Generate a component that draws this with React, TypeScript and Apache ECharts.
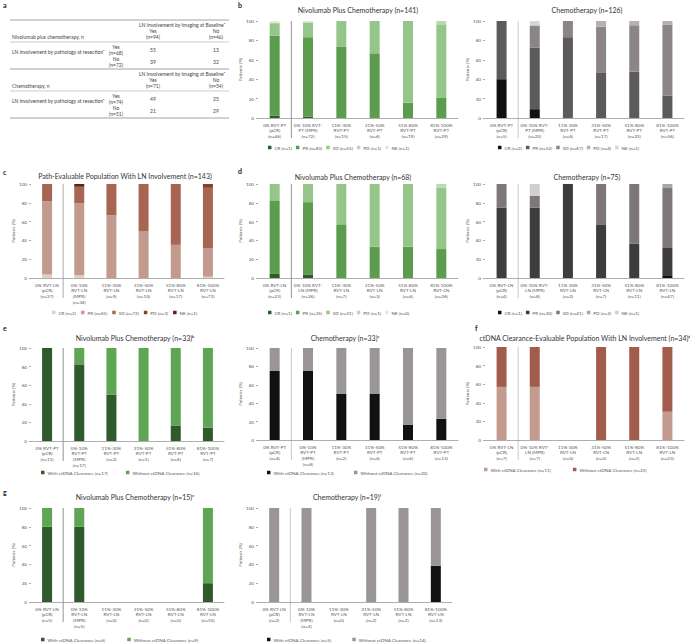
import React, { useEffect, useRef } from "react";
import * as echarts from "echarts";

const FONT = "Lato, 'Open Sans', sans-serif";

// ---------- categories ----------
const bNivoCats = ["0% RVT-PT\n(pCR)\n(n=46)", "0%-10% RVT-\nPT (MPR)\n(n=72)", "11%-30%\nRVT-PT\n(n=15)", "31%-50%\nRVT-PT\n(n=6)", "51%-80%\nRVT-PT\n(n=19)", "81%-100%\nRVT-PT\n(n=29)"];
const bChemoCats = ["0% RVT-PT\n(pCR)\n(n=5)", "0%-10% RVT-\nPT (MPR)\n(n=22)", "11%-30%\nRVT-PT\n(n=6)", "31%-50%\nRVT-PT\n(n=17)", "51%-80%\nRVT-PT\n(n=23)", "81%-100%\nRVT-PT\n(n=56)"];
const cCats = ["0% RVT-LN\n(pCR)\n(n=27)", "0%-10%\nRVT-LN\n(MPR)\n(n=34)", "11%-30%\nRVT-LN\n(n=9)", "31%-50%\nRVT-LN\n(n=10)", "51%-80%\nRVT-LN\n(n=17)", "81%-100%\nRVT-LN\n(n=73)"];
const dNivoCats = ["0% RVT-LN\n(pCR)\n(n=23)", "0%-10% RVT-\nLN (MPR)\n(n=26)", "11%-30%\nRVT-LN\n(n=7)", "31%-50%\nRVT-LN\n(n=3)", "51%-80%\nRVT-LN\n(n=6)", "81%-100%\nRVT-LN\n(n=26)"];
const dChemoCats = ["0% RVT-LN\n(pCR)\n(n=4)", "0%-10% RVT-\nLN (MPR)\n(n=8)", "11%-30%\nRVT-LN\n(n=2)", "31%-50%\nRVT-LN\n(n=7)", "51%-80%\nRVT-LN\n(n=11)", "81%-100%\nRVT-LN\n(n=47)"];
const eNivoCats = ["0% RVT-PT\n(pCR)\n(n=11)", "0%-10%\nRVT-PT\n(MPR)\n(n=17)", "11%-30%\nRVT-PT\n(n=2)", "31%-50%\nRVT-PT\n(n=1)", "51%-80%\nRVT-PT\n(n=6)", "81%-100%\nRVT-PT\n(n=7)"];
const eChemoCats = ["0% RVT-PT\n(pCR)\n(n=4)", "0%-10%\nRVT-PT\n(MPR)\n(n=8)", "11%-30%\nRVT-PT\n(n=2)", "31%-50%\nRVT-PT\n(n=4)", "51%-80%\nRVT-PT\n(n=6)", "81%-100%\nRVT-PT\n(n=13)"];
const fCats = ["0% RVT-LN\n(pCR)\n(n=7)", "0%-10% RVT-\nLN (MPR)\n(n=7)", "11%-30%\nRVT-LN\n(n=0)", "31%-50%\nRVT-LN\n(n=2)", "51%-80%\nRVT-LN\n(n=2)", "81%-100%\nRVT-LN\n(n=23)"];
const gNivoCats = ["0% RVT-LN\n(pCR)\n(n=5)", "0%-10%\nRVT-LN\n(MPR)\n(n=5)", "11%-30%\nRVT-LN\n(n=0)", "31%-50%\nRVT-LN\n(n=0)", "51%-80%\nRVT-LN\n(n=0)", "81%-100%\nRVT-LN\n(n=10)"];
const gChemoCats = ["0% RVT-LN\n(pCR)\n(n=2)", "0%-10%\nRVT-LN\n(MPR)\n(n=2)", "11%-30%\nRVT-LN\n(n=0)", "31%-50%\nRVT-LN\n(n=2)", "51%-80%\nRVT-LN\n(n=2)", "81%-100%\nRVT-LN\n(n=13)"];

const yTicks = [0, 20, 40, 60, 80, 100];

// ---------- values (% of patients) ----------
// b: Nivolumab + chemo, RVT-PT
const bNivoCR = [2.2, 1.4, 0, 0, 0, 0];
const bNivoPR = [82.6, 81.9, 73.3, 66.7, 15.8, 20.7];
const bNivoSD = [13.0, 15.3, 26.7, 33.3, 84.2, 75.9];
const bNivoPD = [0, 0, 0, 0, 0, 3.4];
const bNivoNE = [2.2, 1.4, 0, 0, 0, 0];
// b: Chemo, RVT-PT
const bChemoCR = [40, 9.1, 0, 0, 0, 0];
const bChemoPR = [60, 63.6, 83.3, 47.1, 47.8, 23.2];
const bChemoSD = [0, 22.7, 16.7, 47.1, 47.8, 73.2];
const bChemoPD = [0, 0, 0, 5.8, 4.4, 3.6];
const bChemoNE = [0, 4.6, 0, 0, 0, 0];
// c: path-evaluable with LN involvement
const cCR = [3.7, 2.9, 0, 0, 0, 1.4];
const cPR = [77.8, 76.5, 66.7, 50, 35.3, 30.1];
const cSD = [18.5, 17.7, 33.3, 50, 64.7, 64.4];
const cPD = [0, 0, 0, 0, 0, 4.1];
const cNE = [0, 2.9, 0, 0, 0, 0];
// d: Nivolumab + chemo, RVT-LN
const dNivoCR = [4.3, 3.8, 0, 0, 0, 0];
const dNivoPR = [78.3, 76.9, 57.1, 33.3, 33.3, 30.8];
const dNivoSD = [17.4, 19.3, 42.9, 66.7, 66.7, 65.4];
const dNivoPD = [0, 0, 0, 0, 0, 3.8];
const dNivoNE = [0, 0, 0, 0, 0, 0];
// d: Chemo, RVT-LN
const dChemoCR = [0, 0, 0, 0, 0, 2.1];
const dChemoPR = [75, 75, 100, 57.1, 36.4, 29.8];
const dChemoSD = [25, 12.5, 0, 42.9, 63.6, 63.8];
const dChemoPD = [0, 0, 0, 0, 0, 4.3];
const dChemoNE = [0, 12.5, 0, 0, 0, 0];
// e: ctDNA clearance, RVT-PT
const eNivoWith = [100, 82.4, 50, 0, 16.7, 14.3];
const eNivoWithout = [0, 17.6, 50, 100, 83.3, 85.7];
const eChemoWith = [75, 75, 50, 50, 16.7, 23.1];
const eChemoWithout = [25, 25, 50, 50, 83.3, 76.9];
// f: ctDNA clearance-evaluable with LN involvement
const fWith = [57.1, 57.1, 0, 0, 0, 30.4];
const fWithout = [42.9, 42.9, 0, 100, 100, 69.6];
// g: ctDNA clearance, RVT-LN
const gNivoWith = [80, 80, 0, 0, 0, 20];
const gNivoWithout = [20, 20, 0, 0, 0, 80];
const gChemoWith = [0, 0, 0, 0, 0, 38.5];
const gChemoWithout = [100, 100, 0, 100, 100, 61.5];

// ---------- legend labels ----------
const bNivoLeg = ["CR (n=1)", "PR (n=83)", "SD (n=55)", "PD (n=1)", "NE (n=1)"];
const bChemoLeg = ["CR (n=2)", "PR (n=52)", "SD (n=67)", "PD (n=4)", "NE (n=1)"];
const cLeg = ["CR (n=2)", "PR (n=65)", "SD (n=72)", "PD (n=3)", "NE (n=1)"];
const dNivoLeg = ["CR (n=1)", "PR (n=35)", "SD (n=31)", "PD (n=1)", "NE (n=0)"];
const dChemoLeg = ["CR (n=1)", "PR (n=30)", "SD (n=41)", "PD (n=2)", "NE (n=1)"];
const eNivoLeg = ["With ctDNA Clearance (n=17)", "Without ctDNA Clearance (n=16)"];
const eChemoLeg = ["With ctDNA Clearance (n=13)", "Without ctDNA Clearance (n=20)"];
const fLeg = ["With ctDNA Clearance (n=11)", "Without ctDNA Clearance (n=23)"];
const gNivoLeg = ["With ctDNA Clearance (n=6)", "Without ctDNA Clearance (n=9)"];
const gChemoLeg = ["With ctDNA Clearance (n=5)", "Without ctDNA Clearance (n=14)"];

// ---------- colours ----------
const GREEN5 = ["#2f5a2c", "#5c9d4d", "#95c589", "#b8dbad", "#dcefd6"];
const GRAY5_B = ["#111111", "#5c5a5a", "#8b8585", "#b5b1b1", "#d6d6d6"];
const GRAY5_D = ["#111111", "#3e3d3d", "#7d7777", "#aaa6a6", "#cfcfcf"];
const BROWN5 = ["#e6cdc4", "#c29a8e", "#a96553", "#86402f", "#5a2519"];
const GREEN2 = ["#2e5a2c", "#5ea653"];
const GRAY2 = ["#111111", "#9a9696"];
const BROWN2 = ["#c39b8f", "#a15d4b"];

type Panel = {
  key: string;
  rect: { left: number; top: number; width: number; height: number };
  cats: string[];
  values: number[][];
  legend: string[];
  colors: string[];
  title: string;
  titleX: number;
  titleY: number;
  legendPos: { left: number; top: number; gap: number };
  sepColor: string;
};

const panels: Panel[] = [
  { key: "bN", rect: { left: 258, top: 21, width: 200, height: 97 }, cats: bNivoCats, values: [bNivoCR, bNivoPR, bNivoSD, bNivoPD, bNivoNE], legend: bNivoLeg, colors: GREEN5, title: "Nivolumab Plus Chemotherapy (n=141)", titleX: 358, titleY: 10, legendPos: { left: 268, top: 145, gap: 4 }, sepColor: "#777" },
  { key: "bC", rect: { left: 485, top: 21, width: 199, height: 97 }, cats: bChemoCats, values: [bChemoCR, bChemoPR, bChemoSD, bChemoPD, bChemoNE], legend: bChemoLeg, colors: GRAY5_B, title: "Chemotherapy (n=126)", titleX: 587, titleY: 10, legendPos: { left: 498, top: 145, gap: 4 }, sepColor: "#bbb" },
  { key: "c", rect: { left: 31, top: 184, width: 193, height: 94 }, cats: cCats, values: [cCR, cPR, cSD, cPD, cNE], legend: cLeg, colors: BROWN5, title: "Path-Evaluable Population With LN Involvement (n=143)", titleX: 125, titleY: 176, legendPos: { left: 52, top: 310, gap: 5 }, sepColor: "#999" },
  { key: "dN", rect: { left: 258, top: 184, width: 200, height: 94 }, cats: dNivoCats, values: [dNivoCR, dNivoPR, dNivoSD, dNivoPD, dNivoNE], legend: dNivoLeg, colors: GREEN5, title: "Nivolumab Plus Chemotherapy (n=68)", titleX: 353, titleY: 177, legendPos: { left: 268, top: 310, gap: 4 }, sepColor: "#777" },
  { key: "dC", rect: { left: 485, top: 184, width: 199, height: 94 }, cats: dChemoCats, values: [dChemoCR, dChemoPR, dChemoSD, dChemoPD, dChemoNE], legend: dChemoLeg, colors: GRAY5_D, title: "Chemotherapy (n=75)", titleX: 587, titleY: 177, legendPos: { left: 498, top: 310, gap: 4 }, sepColor: "#bbb" },
  { key: "eN", rect: { left: 31, top: 348, width: 193, height: 93 }, cats: eNivoCats, values: [eNivoWith, eNivoWithout], legend: eNivoLeg, colors: GREEN2, title: "Nivolumab Plus Chemotherapy (n=33)ᵇ", titleX: 135, titleY: 338, legendPos: { left: 41, top: 470, gap: 18 }, sepColor: "#777" },
  { key: "eC", rect: { left: 258, top: 348, width: 200, height: 92 }, cats: eChemoCats, values: [eChemoWith, eChemoWithout], legend: eChemoLeg, colors: GRAY2, title: "Chemotherapy (n=33)ᶜ", titleX: 345, titleY: 338, legendPos: { left: 267, top: 470, gap: 20 }, sepColor: "#bbb" },
  { key: "f", rect: { left: 485, top: 347, width: 199, height: 93 }, cats: fCats, values: [fWith, fWithout], legend: fLeg, colors: BROWN2, title: "ctDNA Clearance-Evaluable Population With LN Involvement (n=34)ᵈ", titleX: 585, titleY: 338, legendPos: { left: 484, top: 467, gap: 22 }, sepColor: "#bbb" },
  { key: "gN", rect: { left: 31, top: 508, width: 193, height: 94 }, cats: gNivoCats, values: [gNivoWith, gNivoWithout], legend: gNivoLeg, colors: GREEN2, title: "Nivolumab Plus Chemotherapy (n=15)ᵉ", titleX: 135, titleY: 497, legendPos: { left: 41, top: 637, gap: 22 }, sepColor: "#777" },
  { key: "gC", rect: { left: 258, top: 508, width: 194, height: 94 }, cats: gChemoCats, values: [gChemoWith, gChemoWithout], legend: gChemoLeg, colors: GRAY2, title: "Chemotherapy (n=19)ᶠ", titleX: 347, titleY: 497, legendPos: { left: 267, top: 637, gap: 21 }, sepColor: "#bbb" },
];

// ---------- table (panel a) ----------
const tableTopHeader = "LN Involvement by Imaging at Baselineᵃ";
const tableRowLabel = "LN involvement by pathology at resectionᵃ";
const nivoImgN = ["(n=94)", "(n=46)"];
const nivoPathN = ["(n=68)", "(n=72)"];
const nivoCells = [["55", "13"], ["39", "32"]];
const chemoImgN = ["(n=71)", "(n=54)"];
const chemoPathN = ["(n=74)", "(n=51)"];
const chemoCells = [["49", "25"], ["21", "29"]];

function tableGraphics() {
  const T = "#444";
  const fs = 5;
  const els: any[] = [];
  const txt = (x: number, y: number, s: string, align = "left") =>
    els.push({ type: "text", x, y, style: { text: s, fill: T, font: `${fs}px ${FONT}`, textAlign: align, textVerticalAlign: "middle" } });
  const hline = (y: number, color = "#777") =>
    els.push({ type: "line", shape: { x1: 10, y1: y, x2: 229, y2: y }, style: { stroke: color, lineWidth: 0.6 } });
  const colYes = 153, colNo = 216, colSub = 116;
  const block = (y0: number, armLabel: string, imgN: string[], pathN: string[], cells: string[][]) => {
    hline(y0, "#666");
    txt(182, y0 + 5, tableTopHeader, "center");
    txt(colYes, y0 + 11, "Yes", "center");
    txt(colNo, y0 + 11, "No", "center");
    txt(12, y0 + 17, armLabel);
    txt(colYes, y0 + 17, imgN[0], "center");
    txt(colNo, y0 + 17, imgN[1], "center");
    hline(y0 + 22, "#aaa");
    txt(12, y0 + 32, tableRowLabel);
    txt(colSub, y0 + 27, "Yes", "center");
    txt(colSub, y0 + 33, pathN[0], "center");
    txt(colSub, y0 + 39, "No", "center");
    txt(colSub, y0 + 45, pathN[1], "center");
    txt(colYes, y0 + 30, cells[0][0], "center");
    txt(colNo, y0 + 30, cells[0][1], "center");
    txt(colYes, y0 + 42, cells[1][0], "center");
    txt(colNo, y0 + 42, cells[1][1], "center");
  };
  block(20, "Nivolumab plus chemotherapy, n", nivoImgN, nivoPathN, nivoCells);
  block(69, "Chemotherapy, n", chemoImgN, chemoPathN, chemoCells);
  hline(118, "#666");
  return els;
}

const panelLetters = [
  { t: "a", x: 3, y: 5 },
  { t: "b", x: 238, y: 5 },
  { t: "c", x: 3, y: 172 },
  { t: "d", x: 238, y: 171 },
  { t: "e", x: 3, y: 328 },
  { t: "f", x: 475, y: 328 },
  { t: "g", x: 3, y: 492 },
];

function buildOption() {
  const grid: any[] = [];
  const xAxis: any[] = [];
  const yAxis: any[] = [];
  const series: any[] = [];
  const legend: any[] = [];
  const graphic: any[] = [];

  panels.forEach((p, gi) => {
    grid.push({ ...p.rect, containLabel: false });
    xAxis.push({
      type: "category",
      gridIndex: gi,
      data: p.cats,
      axisLine: { lineStyle: { color: "#9a9a9a", width: 0.8 } },
      axisTick: { show: false },
      axisLabel: { fontSize: 4.6, lineHeight: 5.6, color: "#555", fontFamily: FONT, margin: 4, interval: 0 },
    });
    yAxis.push({
      type: "value",
      gridIndex: gi,
      min: 0,
      max: 100,
      interval: 20,
      name: "Patients (%)",
      nameLocation: "middle",
      nameGap: 15,
      nameRotate: 90,
      nameTextStyle: { fontSize: 4.6, color: "#555", fontFamily: FONT },
      axisLine: { show: false },
      axisTick: { show: true, length: 2, lineStyle: { color: "#aaa" } },
      splitLine: { show: false },
      axisLabel: { fontSize: 4.6, color: "#555", fontFamily: FONT, margin: 4, customValues: yTicks },
    });
    const names = p.legend.map((l) => `${p.key}|${l}`);
    p.values.forEach((vals, si) => {
      series.push({
        type: "bar",
        name: names[si],
        xAxisIndex: gi,
        yAxisIndex: gi,
        stack: "s" + gi,
        barWidth: 10,
        data: vals,
        itemStyle: { color: p.colors[si] },
      });
    });
    legend.push({
      data: names,
      left: p.legendPos.left,
      top: p.legendPos.top,
      orient: "horizontal",
      icon: "rect",
      itemWidth: 3.5,
      itemHeight: 3.5,
      itemGap: p.legendPos.gap,
      padding: 0,
      selectedMode: false,
      formatter: (n: string) => n.split("|")[1],
      textStyle: { fontSize: 4.6, color: "#555", fontFamily: FONT, padding: [0, 0, 0, -2] },
    });
    graphic.push({
      type: "text",
      x: p.titleX,
      y: p.titleY,
      style: { text: p.title, fill: "#333", font: `7px ${FONT}`, textAlign: "center", textVerticalAlign: "middle" },
    });
    const sx = p.rect.left + p.rect.width / 6;
    graphic.push({
      type: "line",
      shape: { x1: sx, y1: p.rect.top, x2: sx, y2: p.rect.top + p.rect.height + 20 },
      style: { stroke: p.sepColor, lineWidth: 0.8 },
    });
  });

  panelLetters.forEach((l) =>
    graphic.push({ type: "text", x: l.x, y: l.y, style: { text: l.t, fill: "#222", font: `bold 7px ${FONT}`, textVerticalAlign: "middle" } })
  );
  graphic.push(...tableGraphics());

  return {
    animation: false,
    backgroundColor: "#ffffff",
    grid,
    xAxis,
    yAxis,
    series,
    legend,
    graphic,
  };
}

export default function App() {
  const ref = useRef<HTMLDivElement>(null);
  useEffect(() => {
    document.body.style.margin = "0";
    if (!ref.current) return;
    const chart = echarts.init(ref.current, undefined, { renderer: "svg" });
    chart.setOption(buildOption() as any);
    return () => chart.dispose();
  }, []);
  return <div ref={ref} style={{ width: 690, height: 643 }} />;
}
